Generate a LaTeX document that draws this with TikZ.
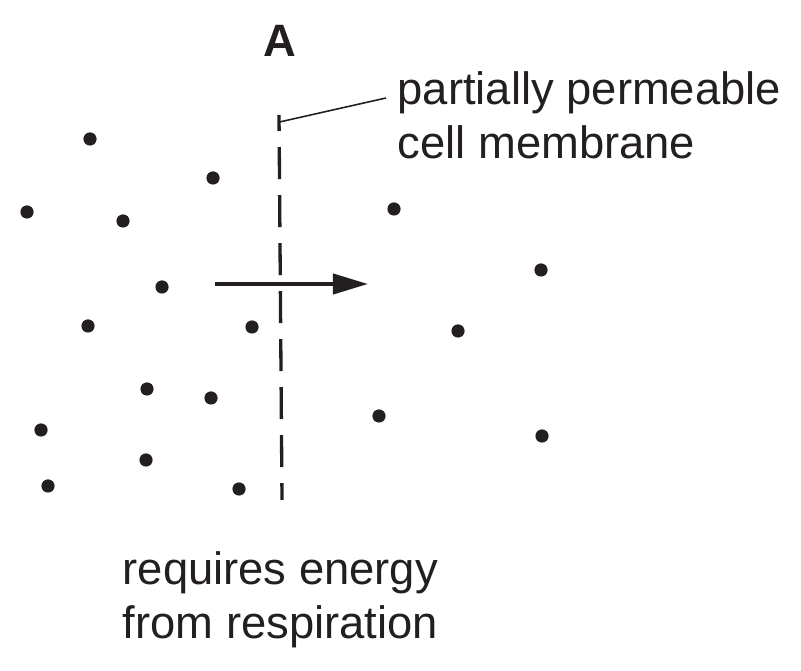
\documentclass[tikz,border=0pt]{standalone}
\usepackage{fontspec}
\setmainfont{Liberation Sans}
\usetikzlibrary{arrows.meta}
\usetikzlibrary{positioning}

\definecolor{ink}{RGB}{35,31,32}

\begin{document}
\begin{tikzpicture}[x=0.01cm, y=-0.01cm, ink]
    \tikzset{
        label/.style={font=\fontsize{12.9}{15.6}\selectfont, inner sep=0pt, align=left, anchor=base west},
        particle/.style={fill=ink},
        membrane/.style={line width=0.94pt, dash pattern=on 0.32cm off 0.16cm, dash phase=0.16cm},
        leader/.style={line width=0.45pt},
        transport/.style={line width=1.15pt, -{Triangle[length=0.35cm, width=0.2cm]}}
    }
    \useasboundingbox (0,0) rectangle (801,671);

    % Constants
    \pgfmathsetmacro{\dotr}{0.066}

    % Membrane
    \coordinate (memtop) at (279,115);
    \coordinate (membot) at (282,500);
    \draw [membrane] (memtop) -- (membot);

    % Labels (base = last line)
    \node [label, font=\fontsize{12.9}{15.6}\selectfont\bfseries, anchor=base] (lblA) at (280,57) {A};
    \node [label] (lblmem) at (397,159) {partially permeable\\cell membrane};
    \node [label] (lblenergy) at (122,639) {requires energy\\from respiration};

    % Leader line
    \coordinate (tick) at (279.5,122);
    \coordinate (lead) at (386,98);
    \draw [leader] (tick) -- (lead);

    % Movement arrow
    \coordinate (arrstart) at (215,284);
    \coordinate (arrend) at (368,284);
    \draw [transport] (arrstart) -- (arrend);

    % Particles, outside (left) and inside (right)
    \foreach \px/\py in {90/139, 213/178, 27/212, 123/221, 162/287, 88/326, 252/327,
                         147/389, 211/398, 41/430, 146/460, 48/486, 239/489,
                         394/209, 541/270, 458/331, 379/416, 542/436}
        \fill [particle] (\px,\py) circle [radius=\dotr cm];

\end{tikzpicture}
\end{document}
